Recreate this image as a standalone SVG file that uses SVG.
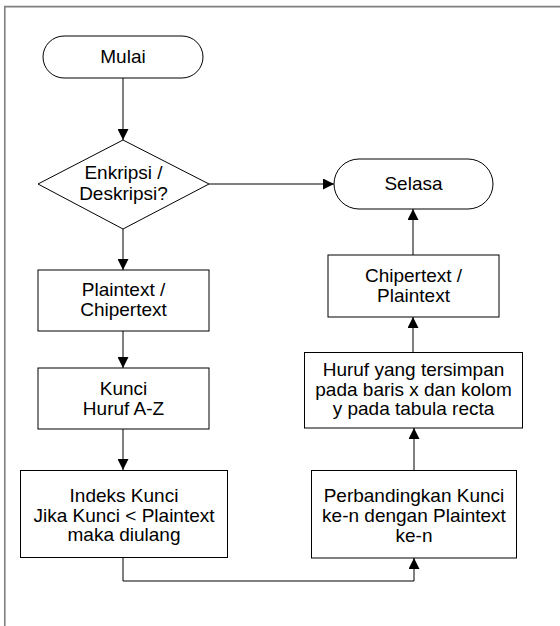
<svg xmlns="http://www.w3.org/2000/svg" width="560" height="626" viewBox="0 0 560 626">
<defs>
<style>
.shape{fill:#fff;stroke:#000;stroke-width:1}
.conn{fill:none;stroke:#000;stroke-width:1}
text{font-family:"Liberation Sans",Arial,sans-serif;font-size:19px;fill:#000;text-anchor:middle}
</style>
<marker id="arr" viewBox="0 0 12 12" refX="12" refY="6" markerWidth="11" markerHeight="11" markerUnits="userSpaceOnUse" orient="auto">
<path d="M0,0 L12,6 L0,12 Z" fill="#000"/>
</marker>
</defs>
<rect width="560" height="626" fill="#fff"/>
<path d="M4.8,626 V6.6 H560" fill="none" stroke="#808080" stroke-width="1.6"/>
<g id="connectors">
<path class="conn" d="M123,78 V140" marker-end="url(#arr)"/>
<path class="conn" d="M209,184 H334" marker-end="url(#arr)"/>
<path class="conn" d="M123,229 V270" marker-end="url(#arr)"/>
<path class="conn" d="M123,331 V368" marker-end="url(#arr)"/>
<path class="conn" d="M123,429 V470" marker-end="url(#arr)"/>
<path class="conn" d="M123,557 V581 H414 V558" marker-end="url(#arr)"/>
<path class="conn" d="M414,470 V428" marker-end="url(#arr)"/>
<path class="conn" d="M413,352 V317" marker-end="url(#arr)"/>
<path class="conn" d="M413,255 V209" marker-end="url(#arr)"/>
</g>
<g id="mulai">
<rect class="shape" x="43" y="36" width="160" height="42" rx="21" ry="21"/>
<text x="123" y="62.5">Mulai</text>
</g>
<g id="decision">
<path class="shape" d="M123,140 L209,184 L123,229 L38,184 Z"/>
<text x="123.5" y="179">Enkripsi /</text>
<text x="123.5" y="199.5">Deskripsi?</text>
</g>
<g id="selasa">
<rect class="shape" x="334" y="159" width="159" height="50" rx="25" ry="25"/>
<text x="413.5" y="189.5">Selasa</text>
</g>
<g id="plaintext">
<rect class="shape" x="38" y="270" width="171" height="61"/>
<text x="123.5" y="295.5">Plaintext /</text>
<text x="123.5" y="315.5">Chipertext</text>
</g>
<g id="kunci">
<rect class="shape" x="38" y="368" width="171" height="61"/>
<text x="123.5" y="395">Kunci</text>
<text x="123.5" y="415">Huruf A-Z</text>
</g>
<g id="indeks">
<rect class="shape" x="20.5" y="470.5" width="207" height="87"/>
<text x="124" y="501.5">Indeks Kunci</text>
<text x="124" y="521.5">Jika Kunci &lt; Plaintext</text>
<text x="124" y="541">maka diulang</text>
</g>
<g id="perbandingkan">
<rect class="shape" x="311.5" y="470.5" width="205" height="87.5"/>
<text x="414" y="502">Perbandingkan Kunci</text>
<text x="414" y="521.5">ke-n dengan Plaintext</text>
<text x="414" y="541.5">ke-n</text>
</g>
<g id="huruf">
<rect class="shape" x="304.5" y="352.5" width="218" height="75.5"/>
<text x="413.5" y="376">Huruf yang tersimpan</text>
<text x="413.5" y="395.5">pada baris x dan kolom</text>
<text x="413.5" y="415">y pada tabula recta</text>
</g>
<g id="chipertext">
<rect class="shape" x="328" y="255" width="171" height="62"/>
<text x="413.5" y="281.5">Chipertext /</text>
<text x="413.5" y="301.5">Plaintext</text>
</g>
</svg>
